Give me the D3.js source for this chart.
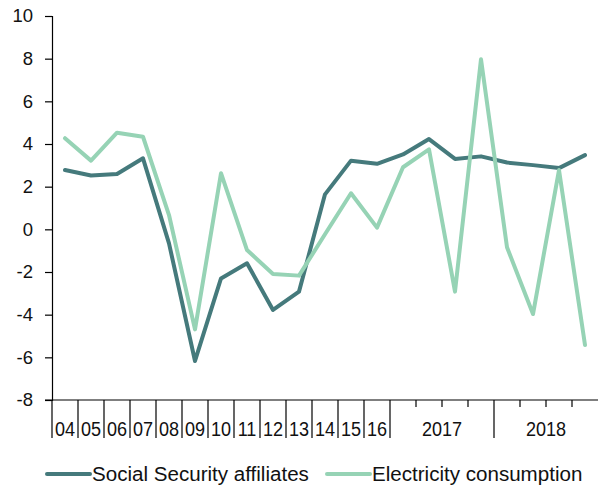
<!DOCTYPE html>
<html>
<head>
<meta charset="utf-8">
<script src="https://cdn.jsdelivr.net/npm/d3@7"></script>
<style>
  html, body { margin: 0; padding: 0; background: #fff; }
  svg { display: block; }
  text { font-family: "Liberation Sans", Arial, sans-serif; fill: #111; }
</style>
</head>
<body>
<svg id="chart" width="599" height="490"></svg>
<script>
// ---- Data ----
const categories = ["04","05","06","07","08","09","10","11","12","13","14","15","16",
  "2017Q1","2017Q2","2017Q3","2017Q4","2018Q1","2018Q2","2018Q3","2018Q4"];
const annualLabels = ["04","05","06","07","08","09","10","11","12","13","14","15","16"];
const yearGroups = ["2017","2018"];
const socialSecurity = [2.78, 2.52, 2.59, 3.33, -0.66, -6.17, -2.3, -1.59, -3.78, -2.92, 1.64, 3.22, 3.07,
  3.51, 4.23, 3.3, 3.42, 3.13, 3.01, 2.87, 3.48];
const electricity = [4.27, 3.22, 4.53, 4.34, 0.67, -4.69, 2.63, -0.97, -2.09, -2.17, -0.23, 1.69, 0.08,
  2.91, 3.75, -2.92, 7.97, -0.84, -3.97, 2.78, -5.42];
const yTicks = [-8, -6, -4, -2, 0, 2, 4, 6, 8, 10];
const seriesNames = ["Social Security affiliates", "Electricity consumption"];
const seriesColors = ["#457a7c", "#96d3b5"];

// ---- Layout ----
const svg = d3.select("#chart");
const x = d3.scaleBand().domain(categories).range([52, 598]).padding(0);
const y = d3.scaleLinear().domain([-8, 10]).range([400, 16]);
const axisColor = "#000";

// Y axis
const yAxis = svg.append("g").attr("transform", "translate(52,0)")
  .call(d3.axisLeft(y).tickValues(yTicks).tickSize(7).tickPadding(12).tickFormat(d => String(d)));
yAxis.select(".domain").attr("stroke", axisColor).attr("stroke-width", 1.2);
yAxis.selectAll(".tick line").attr("stroke", axisColor).attr("stroke-width", 1.2);
yAxis.selectAll(".tick text").style("font-size", "18.5px").style("font-family", "Liberation Sans, Arial, sans-serif").attr("fill", "#111");

// X axis baseline
svg.append("line").attr("x1", 45).attr("x2", 598).attr("y1", y(-8)).attr("y2", y(-8))
  .attr("stroke", axisColor).attr("stroke-width", 1.2);

// Separators
const bw = x.bandwidth();
const longIdx = d3.range(0, 14).concat([17]);
const shortIdx = [14, 15, 16, 18, 19, 20];
const boundary = i => x(categories[i]);
svg.selectAll("line.sepLong").data(longIdx).join("line").attr("class", "sepLong")
  .attr("x1", i => boundary(i)).attr("x2", i => boundary(i))
  .attr("y1", y(-8)).attr("y2", 438).attr("stroke", axisColor).attr("stroke-width", 1.2);
svg.selectAll("line.sepShort").data(shortIdx).join("line").attr("class", "sepShort")
  .attr("x1", i => boundary(i)).attr("x2", i => boundary(i))
  .attr("y1", y(-8)).attr("y2", 407).attr("stroke", axisColor).attr("stroke-width", 1.2);

// X labels (annual)
const sx = 0.86;
svg.selectAll("text.xl").data(annualLabels).join("text").attr("class", "xl")
  .attr("transform", d => `translate(${x(d) + bw / 2},436) scale(${sx},1)`)
  .attr("text-anchor", "middle").style("font-size", "21px").text(d => d);
// Year group labels
svg.selectAll("text.yl").data(yearGroups).join("text").attr("class", "yl")
  .attr("transform", d => {
    const first = x(d + "Q1"), last = x(d + "Q4") + bw;
    return `translate(${(first + last) / 2},436) scale(${sx},1)`;
  })
  .attr("text-anchor", "middle").style("font-size", "21px").text(d => d);

// Lines
const line = d3.line().x((d, i) => x(categories[i]) + bw / 2).y(d => y(d));
[socialSecurity, electricity].forEach((s, k) => {
  svg.append("path").datum(s).attr("d", line).attr("fill", "none")
    .attr("stroke", seriesColors[k]).attr("stroke-width", 4)
    .attr("stroke-linejoin", "round").attr("stroke-linecap", "round");
});

// Legend
const legendX = [47, 327];
seriesNames.forEach((name, k) => {
  svg.append("line").attr("x1", legendX[k]).attr("x2", legendX[k] + 43)
    .attr("y1", 474).attr("y2", 474).attr("stroke", seriesColors[k])
    .attr("stroke-width", 4).attr("stroke-linecap", "round");
  svg.append("text").attr("transform", `translate(${legendX[k] + 45},481) scale(0.98,1)`)
    .style("font-size", "21px").text(name);
});
</script>
</body>
</html>
